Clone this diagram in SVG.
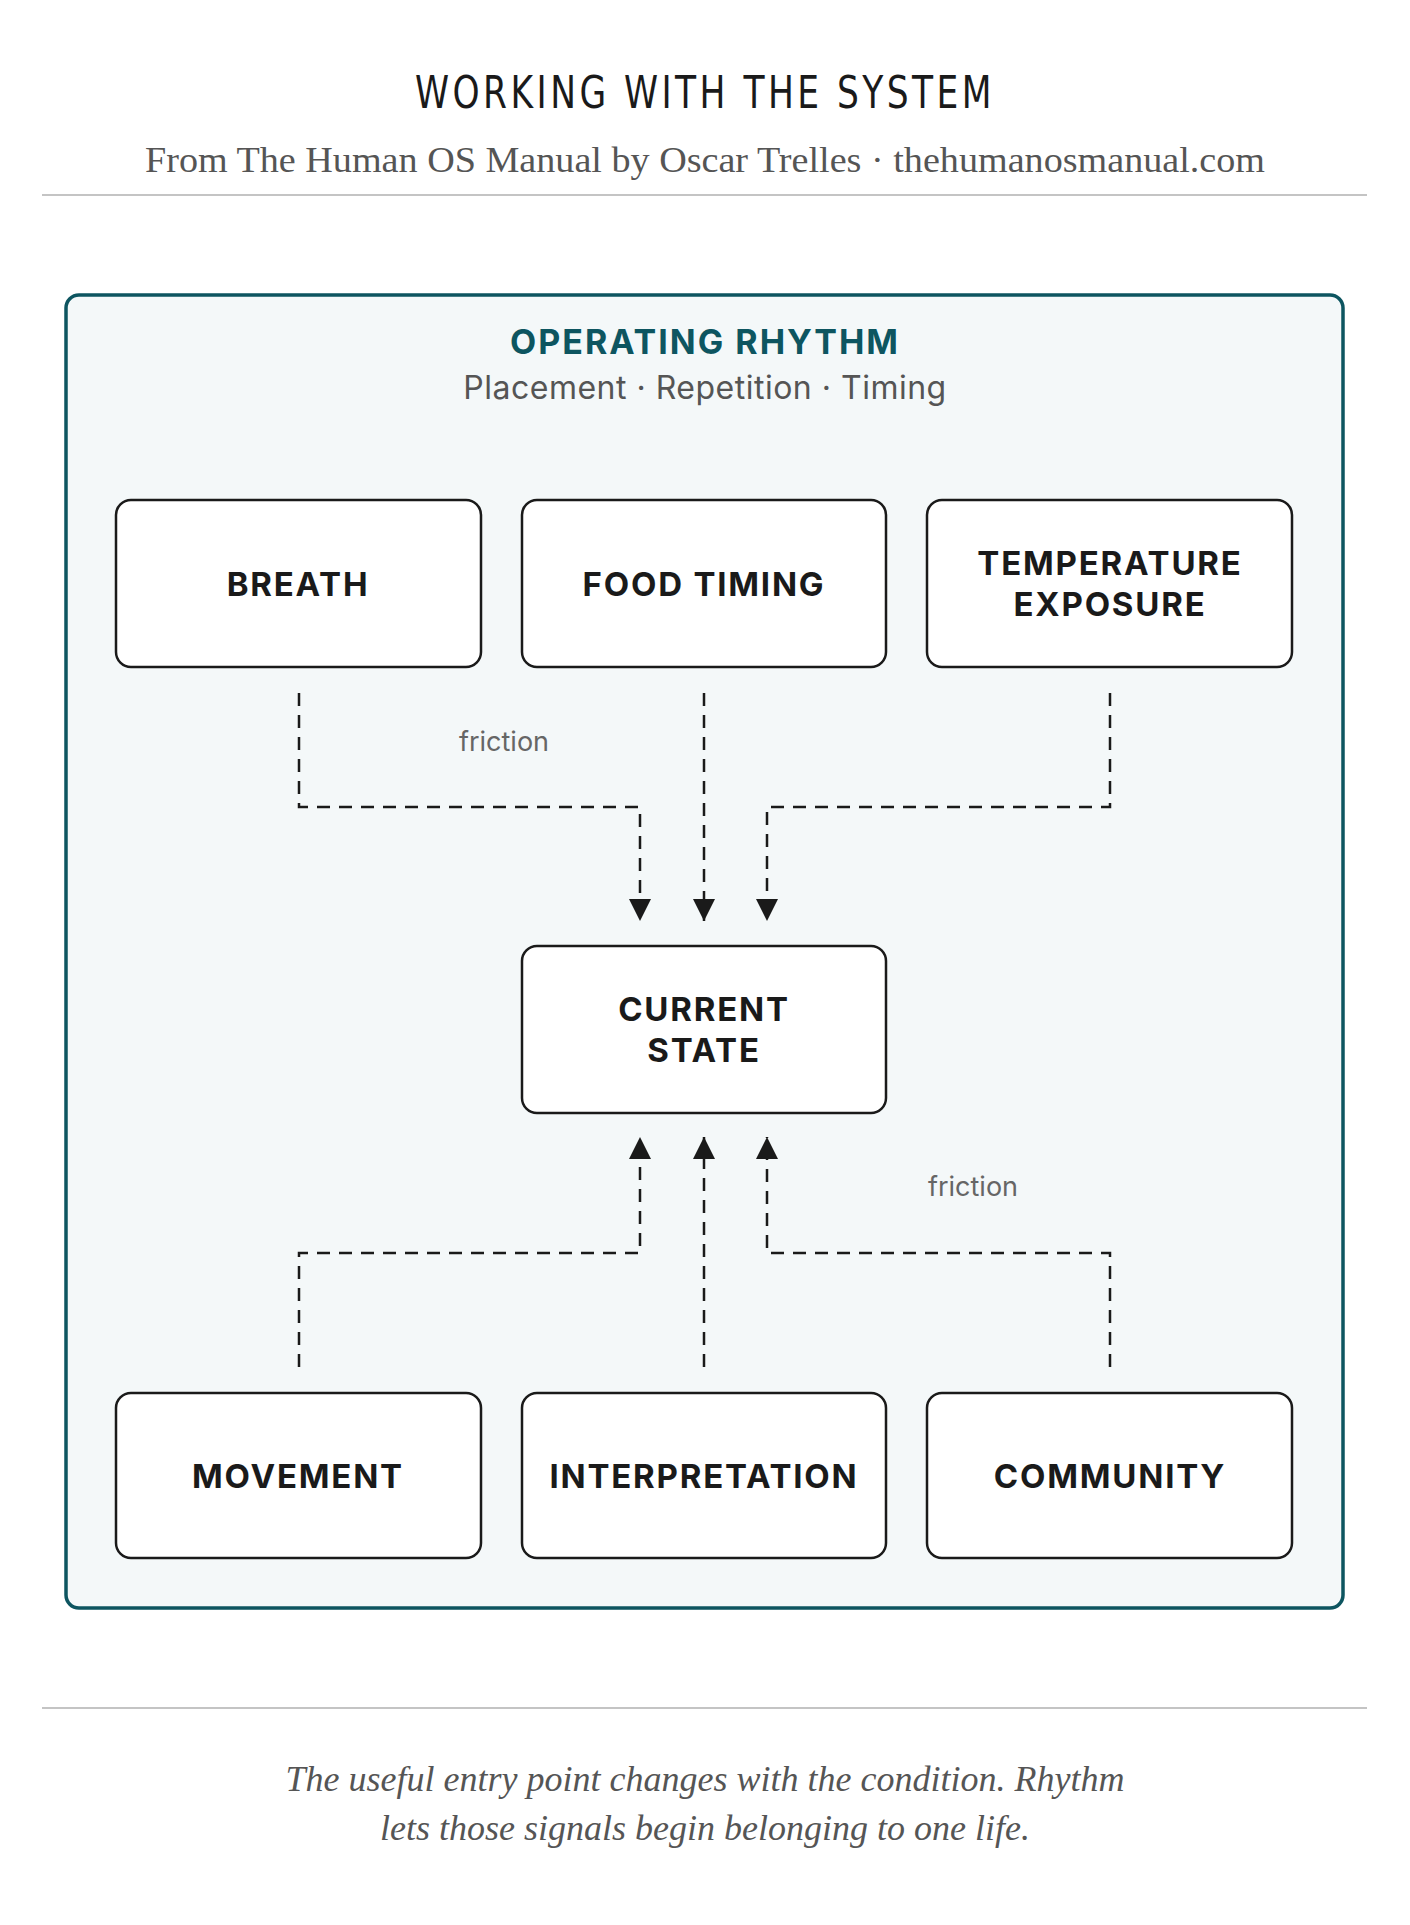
<svg xmlns="http://www.w3.org/2000/svg" width="1410" height="1925" viewBox="0 0 1410 1925">
<defs>
<style>
.box{fill:#fff;stroke:#1a1a1a;stroke-width:2.5}
.lbl{font-family:Inter,"Liberation Sans",sans-serif;font-weight:700;font-size:33px;letter-spacing:1.8px;fill:#1a1a1a;text-anchor:middle}
.con{fill:none;stroke:#1a1a1a;stroke-width:2.5;stroke-dasharray:13 9}
.fr{font-family:Inter,"Liberation Sans",sans-serif;font-size:27px;fill:#666;text-anchor:middle}
</style>
<marker id="a" viewBox="0 0 22 22" refX="22" refY="11" markerWidth="22" markerHeight="22" markerUnits="userSpaceOnUse" orient="auto"><path d="M0,0L22,11L0,22Z" fill="#1a1a1a"/></marker>
</defs>
<rect width="1410" height="1925" fill="#fff"/>
<text x="705" y="108" text-anchor="middle" font-family="'DejaVu Sans Condensed','Liberation Sans',sans-serif" font-stretch="condensed" font-size="44" letter-spacing="4" textLength="580" lengthAdjust="spacingAndGlyphs" fill="#1a1a1a">WORKING WITH THE SYSTEM</text>
<text x="705" y="172" text-anchor="middle" font-family="'Liberation Serif',serif" font-size="36" textLength="1120" lengthAdjust="spacingAndGlyphs" fill="#555">From The Human OS Manual by Oscar Trelles · thehumanosmanual.com</text>
<line x1="42" y1="195" x2="1367" y2="195" stroke="#c4c4c4" stroke-width="2"/>
<g id="container">
<rect x="66" y="295" width="1277" height="1313" rx="13" fill="#f4f8f9" stroke="#0d5560" stroke-width="3.5"/>
<text x="705" y="354" text-anchor="middle" font-family="Inter,'Liberation Sans',sans-serif" font-weight="700" font-size="34" letter-spacing="2" fill="#0d5560">OPERATING RHYTHM</text>
<text x="705" y="399" text-anchor="middle" font-family="Inter,'Liberation Sans',sans-serif" font-size="32" letter-spacing="0.5" fill="#555">Placement · Repetition · Timing</text>
</g>
<g id="connectors">
<path class="con" d="M299,693V807H640V921" marker-end="url(#a)"/>
<path class="con" d="M704,693V921" marker-end="url(#a)"/>
<path class="con" d="M1110,693V807H767V921" marker-end="url(#a)"/>
<path class="con" d="M299,1367V1253H640V1137" marker-end="url(#a)"/>
<path class="con" d="M704,1367V1137" marker-end="url(#a)"/>
<path class="con" d="M1110,1367V1253H767V1137" marker-end="url(#a)"/>
<text class="fr" x="504" y="751">friction</text>
<text class="fr" x="973" y="1196">friction</text>
</g>
<g id="breath"><rect class="box" x="116" y="500" width="365" height="167" rx="15"/><text class="lbl" x="298" y="596">BREATH</text></g>
<g id="food"><rect class="box" x="522" y="500" width="364" height="167" rx="15"/><text class="lbl" x="704" y="596">FOOD TIMING</text></g>
<g id="temp"><rect class="box" x="927" y="500" width="365" height="167" rx="15"/><text class="lbl" x="1110" y="575">TEMPERATURE</text><text class="lbl" x="1110" y="616">EXPOSURE</text></g>
<g id="current"><rect class="box" x="522" y="946" width="364" height="167" rx="15"/><text class="lbl" x="704" y="1021">CURRENT</text><text class="lbl" x="704" y="1062">STATE</text></g>
<g id="movement"><rect class="box" x="116" y="1393" width="365" height="165" rx="15"/><text class="lbl" x="298" y="1488">MOVEMENT</text></g>
<g id="interp"><rect class="box" x="522" y="1393" width="364" height="165" rx="15"/><text class="lbl" x="704" y="1488">INTERPRETATION</text></g>
<g id="community"><rect class="box" x="927" y="1393" width="365" height="165" rx="15"/><text class="lbl" x="1110" y="1488">COMMUNITY</text></g>
<line x1="42" y1="1708" x2="1367" y2="1708" stroke="#c4c4c4" stroke-width="2"/>
<g font-family="'Liberation Serif',serif" font-style="italic" font-size="36" fill="#555" text-anchor="middle">
<text x="705" y="1791">The useful entry point changes with the condition. Rhythm</text>
<text x="705" y="1840">lets those signals begin belonging to one life.</text>
</g>
</svg>
